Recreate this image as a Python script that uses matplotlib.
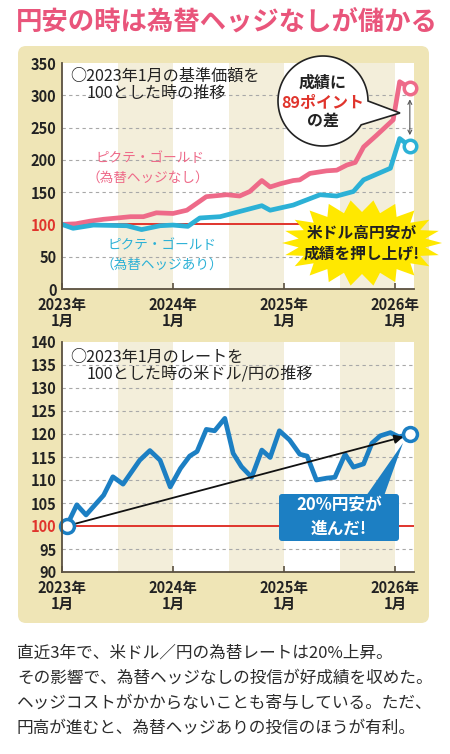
import numpy as np
import matplotlib
matplotlib.use("Agg")
import matplotlib.pyplot as plt
from matplotlib.patches import FancyBboxPatch, Polygon

plt.rcParams['font.family'] = ['Noto Sans CJK JP', 'DejaVu Sans']

# ---------------------------------------------------------------- data
TITLE = "円安の時は為替ヘッジなしが儲かる"
X_TICKS = [0, 12, 24, 36]              # months since 2023-01
X_LABELS = ["2023年\n1月", "2024年\n1月", "2025年\n1月", "2026年\n1月"]
SHADE_BANDS = [(6, 12), (18, 24), (30, 36)]

# 上段: 基準価額 (2023年1月=100)
NAV_YTICKS = [0, 50, 100, 150, 200, 250, 300, 350]
NAV_GRID = [50, 150, 200, 250, 300]
NOHEDGE_M = [0, 1.5, 3, 4.5, 6, 7.4, 8.8, 10.2, 12, 13.5, 15.6, 17.8, 19.2,
             20.3, 21.6, 22.5, 23.6, 25, 25.7, 26.8, 28.6, 29.7, 30.8, 31.7,
             32.6, 34, 35.8, 36.5, 37.6]
NOHEDGE_V = [100, 101, 105, 108, 110, 112, 112, 118, 117, 122, 143, 146, 144,
             151, 168, 158, 163, 168, 169, 179, 183, 184, 192, 196,
             220, 238, 262, 321, 311]
HEDGE_M = [0, 1.2, 3.4, 7, 8.6, 10.6, 12, 13.6, 14.9, 17.1, 19.2, 21.6, 22.5,
           25, 27.9, 29.7, 31.5, 32.6, 35.5, 36.5, 37.6]
HEDGE_V = [100, 94, 99, 98, 92, 98, 99, 97, 110, 112, 120, 129, 122,
           130, 146, 144, 151, 169, 187, 233, 221]

# 下段: 米ドル/円 (2023年1月=100)
FX_YTICKS = [90, 95, 100, 105, 110, 115, 120, 125, 130, 135, 140]
FX_GRID = [95, 105, 110, 115, 120, 125, 130, 135]
USDJPY_M = [0.5, 1.6, 2.6, 4.5, 5.5, 6.6, 8.4, 9.5, 10.6, 11.7, 12.8, 13.8,
            14.6, 15.6, 16.5, 17.6, 18.5, 19.4, 20.5, 21.6, 22.5, 23.5, 24.6,
            25.7, 26.5, 27.5, 28.6, 29.5, 30.6, 31.5, 32.6, 33.5, 34.4, 35.5,
            36.4, 37.6]
USDJPY_V = [100, 104.6, 102.4, 106.7, 110.7, 109.1, 114.3, 116.4, 114.3, 108.5,
            112.5, 115.2, 116.2, 121, 120.7, 123.4, 115.8, 112.9, 110.6, 116.5,
            114.9, 120.7, 118.7, 115.6, 115.2, 110, 110.4, 110.6, 115.6, 112.8,
            113.5, 118, 119.6, 120.3, 119.4, 119.9]

CAPTION = ["直近3年で、米ドル／円の為替レートは20%上昇。",
           "その影響で、為替ヘッジなしの投信が好成績を収めた。",
           "ヘッジコストがかからないことも寄与している。ただ、",
           "円高が進むと、為替ヘッジありの投信のほうが有利。"]

# ---------------------------------------------------------------- style
W, H = 450, 754
PINK = "#EE6A89"
CYAN = "#2CB1D6"
BLUE = "#1C7FC3"
RED = "#E0342C"
BEIGE = "#EFE5B6"
BAND = "#F3EEDA"
INK = "#222222"
SPINE = "#5a5040"


def rect(x0, y0, x1, y1):
    return [x0 / W, 1 - y1 / H, (x1 - x0) / W, (y1 - y0) / H]


fig = plt.figure(figsize=(W / 100, H / 100), dpi=100)
fig.patch.set_facecolor("white")

# background layer in pixel coords
bg = fig.add_axes([0, 0, 1, 1], zorder=0)
bg.set_xlim(0, W)
bg.set_ylim(H, 0)
bg.axis("off")
bg.add_patch(FancyBboxPatch((18, 46), 411, 577, boxstyle="round,pad=0,rounding_size=8",
                            facecolor=BEIGE, edgecolor="none"))
bg.text(227, 22, TITLE, ha="center", va="center", fontsize=19,
        fontweight="bold", color="#E9557B")
for i, line in enumerate(CAPTION):
    bg.text(17, 653 + i * 25, line, ha="left", va="center", fontsize=12, color="#2b2b2b")


def style_axes(ax, yticks, grid, ylim):
    ax.set_facecolor("white")
    ax.set_xlim(0, 38.05)
    ax.set_ylim(*ylim)
    for a, b in SHADE_BANDS:
        ax.axvspan(a, b, color=BAND, lw=0, zorder=0)
    for g in grid:
        ax.axhline(g, color="#a8a8a8", lw=0.8, ls=(0, (3, 3)), zorder=1)
    ax.axhline(100, color=RED, lw=1.4, zorder=2)
    for s in ("top", "right"):
        ax.spines[s].set_visible(False)
    for s in ("left", "bottom"):
        ax.spines[s].set_color(SPINE)
        ax.spines[s].set_linewidth(1.3)
        ax.spines[s].set_zorder(6)
    ax.set_yticks(yticks)
    ax.set_yticklabels([str(v) for v in yticks])
    ax.tick_params(axis="y", length=0, pad=4, labelsize=10.5, labelcolor=INK)
    ax.set_xticks(X_TICKS)
    ax.set_xticklabels(X_LABELS, linespacing=0.95)
    ax.tick_params(axis="x", direction="in", length=4, width=1.2, color=SPINE,
                   pad=6, labelsize=10.5, labelcolor=INK)
    for lab in ax.get_yticklabels():
        lab.set_fontweight("bold")
        if lab.get_text() == "100":
            lab.set_color(RED)
    for lab in ax.get_xticklabels():
        lab.set_fontweight("bold")


# ---------------------------------------------------------------- top chart
ax1 = fig.add_axes(rect(62, 63, 414, 289), zorder=1)
style_axes(ax1, NAV_YTICKS, NAV_GRID, (0, 350))
ax1.plot(NOHEDGE_M, NOHEDGE_V, color=PINK, lw=3.4, solid_joinstyle="round", zorder=4)
ax1.plot(HEDGE_M, HEDGE_V, color=CYAN, lw=3.4, solid_joinstyle="round", zorder=4)
ax1.plot(NOHEDGE_M[-1], NOHEDGE_V[-1], "o", ms=9, mfc="white", mec=PINK, mew=2.5, zorder=5, clip_on=False)
ax1.plot(HEDGE_M[-1], HEDGE_V[-1], "o", ms=9, mfc="white", mec=CYAN, mew=2.5, zorder=5, clip_on=False)
ax1.annotate("", xy=(HEDGE_M[-1], HEDGE_V[-1]), xytext=(NOHEDGE_M[-1], NOHEDGE_V[-1]),
             arrowprops=dict(arrowstyle="<->", color="#555555", lw=0.8,
                             shrinkA=8, shrinkB=8, mutation_scale=7), zorder=5)

# ---------------------------------------------------------------- bottom chart
ax2 = fig.add_axes(rect(62, 342, 414, 572), zorder=1)
style_axes(ax2, FX_YTICKS, FX_GRID, (90, 140))
ax2.plot(USDJPY_M, USDJPY_V, color=BLUE, lw=3.4, solid_joinstyle="round", zorder=4)
ax2.annotate("", xy=(USDJPY_M[-1] - 0.7, USDJPY_V[-1] - 0.5), xytext=(USDJPY_M[0], USDJPY_V[0]),
             arrowprops=dict(arrowstyle="-|>", color="#111111", lw=1.3,
                             shrinkA=0, shrinkB=0, mutation_scale=13), zorder=5)
for i in (0, -1):
    ax2.plot(USDJPY_M[i], USDJPY_V[i], "o", ms=10, mfc="white", mec=BLUE, mew=2.5,
             zorder=6, clip_on=False)

# ---------------------------------------------------------------- overlay (pixel coords)
ov = fig.add_axes([0, 0, 1, 1], zorder=5)
ov.set_xlim(0, W)
ov.set_ylim(H, 0)
ov.axis("off")
ov.patch.set_alpha(0)

ov.text(70, 76, "○2023年1月の基準価額を", ha="left", va="center", fontsize=11.6, color=INK)
ov.text(87, 93, "100とした時の推移", ha="left", va="center", fontsize=11.6, color=INK)
ov.text(70, 357, "○2023年1月のレートを", ha="left", va="center", fontsize=11.6, color=INK)
ov.text(87, 374, "100とした時の米ドル/円の推移", ha="left", va="center", fontsize=11.6, color=INK)

ov.text(150, 158, "ピクテ・ゴールド", ha="center", va="center", fontsize=9.8, color=PINK)
ov.text(148, 178, "（為替ヘッジなし）", ha="center", va="center", fontsize=9.8, color=PINK)
ov.text(162, 245, "ピクテ・ゴールド", ha="center", va="center", fontsize=9.8, color=CYAN)
ov.text(162, 265, "（為替ヘッジあり）", ha="center", va="center", fontsize=9.8, color=CYAN)

# speech bubble
cx, cy, r = 323, 101, 45
th = np.radians(np.linspace(32, 360, 120))
pts = np.column_stack([cx + r * np.cos(th), cy + r * np.sin(th)])
pts = np.vstack([pts, [[400, 113]]])
ov.add_patch(Polygon(pts, closed=True, facecolor="white", edgecolor="#222222", lw=1.2))
ov.text(cx, 83, "成績に", ha="center", va="center", fontsize=11.5, fontweight="bold", color=INK)
ov.text(cx, 102, "89ポイント", ha="center", va="center", fontsize=11.5, fontweight="bold", color=RED)
ov.text(cx, 121, "の差", ha="center", va="center", fontsize=11.5, fontweight="bold", color=INK)

# starburst
n = 44
ang = np.linspace(0, 2 * np.pi, n, endpoint=False)
rx = np.where(np.arange(n) % 2 == 0, 80, 64)
ry = np.where(np.arange(n) % 2 == 0, 43, 31)
star = np.column_stack([362 + rx * np.cos(ang), 243 + ry * np.sin(ang)])
ov.add_patch(Polygon(star, closed=True, facecolor="#FFE800", edgecolor="none"))
ov.text(362, 233, "米ドル高円安が", ha="center", va="center", fontsize=11.3, fontweight="bold", color=INK)
ov.text(362, 253, "成績を押し上げ!", ha="center", va="center", fontsize=11.3, fontweight="bold", color=INK)

# blue callout
ov.add_patch(Polygon([[366, 496], [384, 496], [403, 443]], closed=True,
                     facecolor=BLUE, edgecolor="none"))
ov.add_patch(FancyBboxPatch((279, 494), 120, 47, boxstyle="round,pad=0,rounding_size=3",
                            facecolor=BLUE, edgecolor="none"))
ov.text(339, 505, "20%円安が", ha="center", va="center", fontsize=12, fontweight="bold", color="white")
ov.text(339, 529, "進んだ!", ha="center", va="center", fontsize=12, fontweight="bold", color="white")

fig.savefig("out.png", dpi=100)
